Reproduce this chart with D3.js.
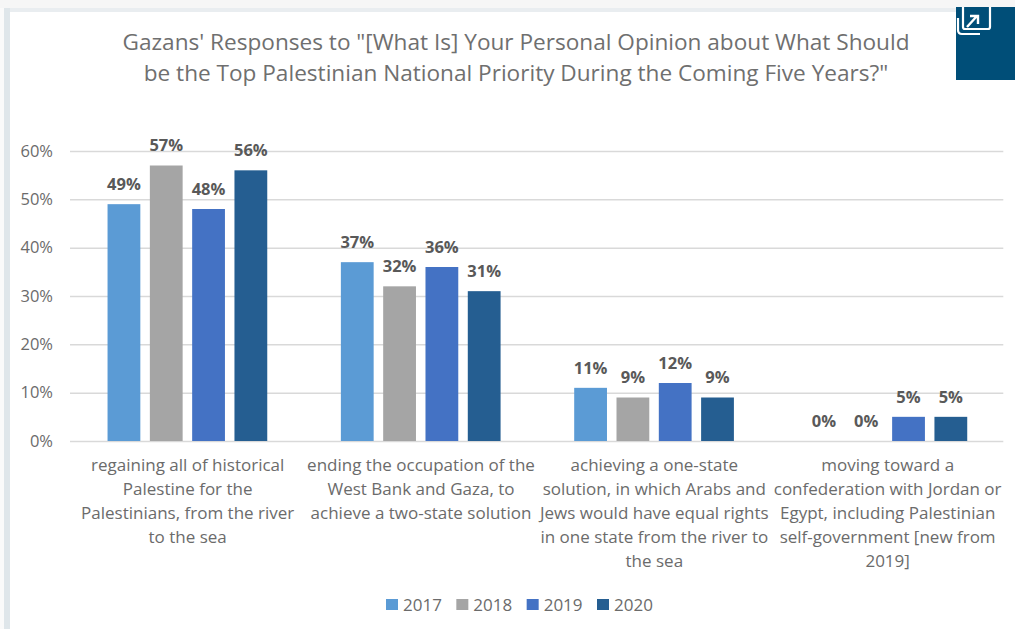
<!DOCTYPE html>
<html>
<head>
<meta charset="utf-8">
<script src="https://cdn.jsdelivr.net/npm/d3@7"></script>
<style>
html,body{margin:0;padding:0;background:#ffffff;}
svg{display:block;}
text{font-family:"Open Sans","Noto Sans",sans-serif;}
</style>
</head>
<body>
<svg id="chart" width="1015" height="629"></svg>
<script>
const titleLines = [
  "Gazans' Responses to \"[What Is] Your Personal Opinion about What Should",
  "be the Top Palestinian National Priority During the Coming Five Years?\""
];
const categories = ["liberation", "twoState", "oneState", "confederation"];
const categoryLabels = [
  ["regaining all of historical", "Palestine for the", "Palestinians, from the river", "to the sea"],
  ["ending the occupation of the", "West Bank and Gaza, to", "achieve a two-state solution"],
  ["achieving a one-state", "solution, in which Arabs and", "Jews would have equal rights", "in one state from the river to", "the sea"],
  ["moving toward a", "confederation with Jordan or", "Egypt, including Palestinian", "self-government [new from", "2019]"]
];
const years = ["2017", "2018", "2019", "2020"];
const yearColors = ["#5b9bd5", "#a5a5a5", "#4472c4", "#255e91"];
const values2017 = [49, 37, 11, 0];
const values2018 = [57, 32, 9, 0];
const values2019 = [48, 36, 12, 5];
const values2020 = [56, 31, 9, 5];
const seriesValues = [values2017, values2018, values2019, values2020];
const yTicks = [0, 10, 20, 30, 40, 50, 60];

const svg = d3.select("#chart");
const textGrey = "#6b6b6b";

// Page strip and panel edges along the top and left
svg.append("rect").attr("width", 1015).attr("height", 8).attr("fill", "#f6f6f6");
svg.append("rect").attr("x", 0).attr("y", 8).attr("width", 1015).attr("height", 4).attr("fill", "#e9edf0");
svg.append("rect").attr("x", 4).attr("y", 8).attr("width", 6).attr("height", 621).attr("fill", "#dfe6ea");
svg.append("rect").attr("x", 0).attr("y", 8).attr("width", 4).attr("height", 621).attr("fill", "#fafafa");

// Scales
const x0 = d3.scaleBand().domain(categories).range([70, 1003.3]);
const x1 = d3.scaleBand().domain(years).range([0, x0.bandwidth()])
  .paddingInner(0.225).paddingOuter(0.87).align(0.51);
const y = d3.scaleLinear().domain([0, 60]).range([441, 151]);

// Title
svg.append("g").selectAll("text").data(titleLines).join("text")
  .attr("x", 516).attr("y", (d, i) => 50 + i * 31)
  .attr("text-anchor", "middle").attr("font-size", 22.6)
  .attr("fill", "#6f6f6f").text(d => d);

// Value axis with gridlines
const yAxis = d3.axisLeft(y).tickValues(yTicks).tickFormat(d => d + "%")
  .tickSize(-(x0.range()[1] - x0.range()[0])).tickPadding(17);
const yG = svg.append("g").attr("transform", "translate(70,0)").call(yAxis);
yG.select(".domain").remove();
yG.selectAll(".tick line").attr("stroke", "#d9d9d9").attr("stroke-width", 1.5);
yG.selectAll(".tick text").attr("fill", textGrey).attr("font-size", 16.5);

// Bars and their value labels
const groups = svg.append("g").selectAll("g").data(categories).join("g")
  .attr("transform", d => `translate(${x0(d)},0)`);
groups.each(function (cat, ci) {
  const g = d3.select(this);
  const rows = years.map((yr, si) => ({ yr, si, v: seriesValues[si][ci] }));
  g.selectAll("rect").data(rows).join("rect")
    .attr("x", d => x1(d.yr)).attr("width", x1.bandwidth())
    .attr("y", d => y(d.v)).attr("height", d => y(0) - y(d.v))
    .attr("fill", d => yearColors[d.si]);
  g.selectAll("text").data(rows).join("text")
    .attr("x", d => x1(d.yr) + x1.bandwidth() / 2)
    .attr("y", d => y(d.v) - 20)
    .attr("dy", "0.35em")
    .attr("text-anchor", "middle").attr("font-size", 16.5).attr("font-weight", 700)
    .attr("fill", "#595959").text(d => d.v + "%");
});

// Category labels
const labelG = svg.append("g").selectAll("g").data(categories).join("g")
  .attr("transform", d => `translate(${x0(d) + x0.bandwidth() / 2 + 1},0)`);
labelG.each(function (cat, ci) {
  d3.select(this).selectAll("text").data(categoryLabels[ci]).join("text")
    .attr("x", 0).attr("y", (d, i) => 471 + i * 24)
    .attr("text-anchor", "middle").attr("font-size", 17)
    .attr("fill", textGrey).text(d => d);
});

// Legend
const legendX = d3.scalePoint().domain(years).range([386, 597]);
const legend = svg.append("g").selectAll("g").data(years).join("g")
  .attr("transform", d => `translate(${legendX(d)},599)`);
legend.append("rect").attr("width", 12).attr("height", 11)
  .attr("fill", (d, i) => yearColors[i]);
legend.append("text").attr("x", 17).attr("y", 12)
  .attr("font-size", 17).attr("fill", textGrey).text(d => d);

// Expand button in the top right corner
const btn = svg.append("g");
btn.append("rect").attr("x", 956).attr("y", 7).attr("width", 59).attr("height", 73).attr("fill", "#004e78");
btn.append("path").attr("d", "M963,7 V27 Q963,29 965,29 H988 Q990,29 990,27 V7").attr("fill", "none")
  .attr("stroke", "#fff").attr("stroke-width", 2.2);
btn.append("path").attr("d", "M958,18 V30 Q958,34 962,34 H980").attr("fill", "none")
  .attr("stroke", "#fff").attr("stroke-width", 2.2);
btn.append("path").attr("d", "M967,27 L977,16 M970,16 H978 V24").attr("fill", "none")
  .attr("stroke", "#fff").attr("stroke-width", 2.4);
</script>
</body>
</html>
